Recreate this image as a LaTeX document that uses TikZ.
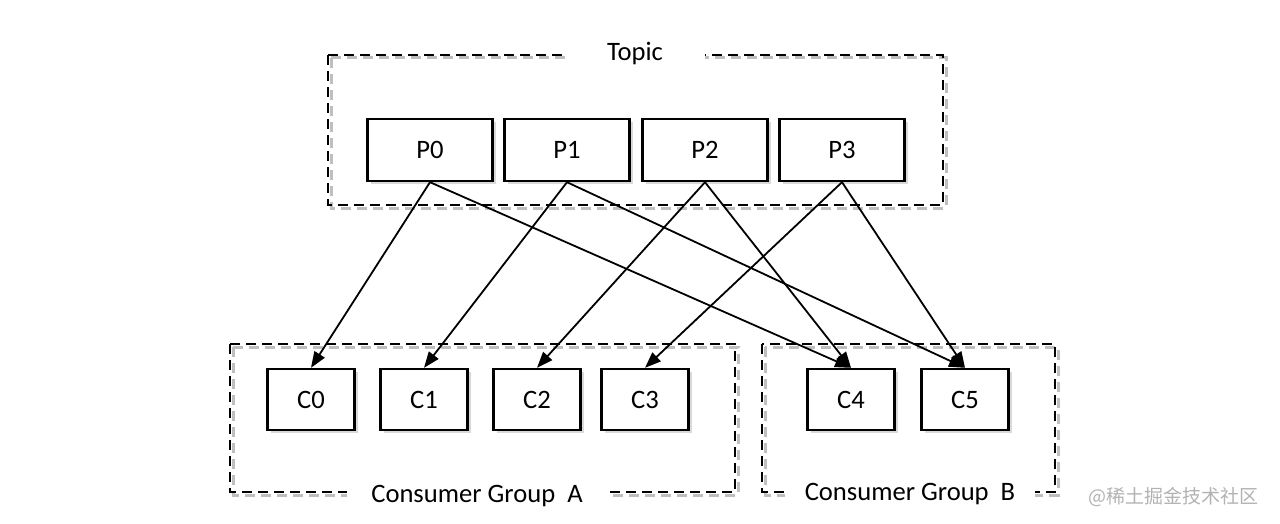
\documentclass[tikz,border=0pt]{standalone}
\usepackage{fontspec}
\setmainfont{Carlito}
\newfontfamily\cjkfont{Noto Sans CJK SC}
\usetikzlibrary{arrows.meta, shadows}

\begin{document}
\begin{tikzpicture}[x=0.5pt, y=-0.5pt,
    testo/.style={font=\fontsize{13.3}{16}\selectfont},
    scatola/.style={testo, draw, line width=1.2pt, fill=white, inner sep=0pt,
        drop shadow={opacity=0.3, shadow xshift=1.5pt, shadow yshift=-1.5pt}},
    partizione/.style={scatola, minimum width=62.5pt, minimum height=31pt},
    consumatore/.style={scatola, minimum width=43.5pt, minimum height=30.5pt},
    gruppo/.style={line width=1.1pt, dash pattern=on 5pt off 3pt},
    ombra/.style={gruppo, black!25, line width=1.5pt, shift={(3,3)}},
    etichetta/.style={testo, fill=white, anchor=base, inner ysep=1pt},
    freccia/.style={line width=0.9pt, -{Triangle[length=8pt, width=6pt]}}]
    % Bordi
    \useasboundingbox (0,0) rectangle (1280,524);
    % Gruppi tratteggiati
    \draw[ombra] (328,55) rectangle (943,205);
    \draw[ombra] (230,344) rectangle (735,492);
    \draw[ombra] (762,344) rectangle (1055,492);
    \draw[gruppo] (328,55) rectangle (943,205);
    \draw[gruppo] (230,344) rectangle (735,492);
    \draw[gruppo] (762,344) rectangle (1055,492);
    \node[etichetta, inner xsep=21pt] (topic) at (635,61) {Topic};
    \node[etichetta, inner xsep=12pt] (grpA) at (477,502) {Consumer Group\ \ A};
    \node[etichetta, inner xsep=10pt] (grpB) at (910,500) {Consumer Group\ \ B};
    % Partizioni e consumatori
    \foreach \i/\x in {0/430, 1/567, 2/705, 3/842}{
        \node[partizione] (P\i) at (\x,150) {P\i};
    }
    \foreach \i/\x in {0/311, 1/424, 2/537, 3/645, 4/851, 5/965}{
        \node[consumatore] (C\i) at (\x,399.5) {C\i};
    }
    % Frecce
    \foreach \p/\c in {0/0, 0/4, 1/1, 1/5, 2/2, 2/4, 3/3, 3/5}{
        \draw[freccia] (P\p.south) -- (C\c.north);
    }
    \node[anchor=base east, text=black!30, font=\cjkfont\fontsize{9.5}{11}\selectfont] (marchio) at (1266,503) {@稀土掘金技术社区};
\end{tikzpicture}
\end{document}
